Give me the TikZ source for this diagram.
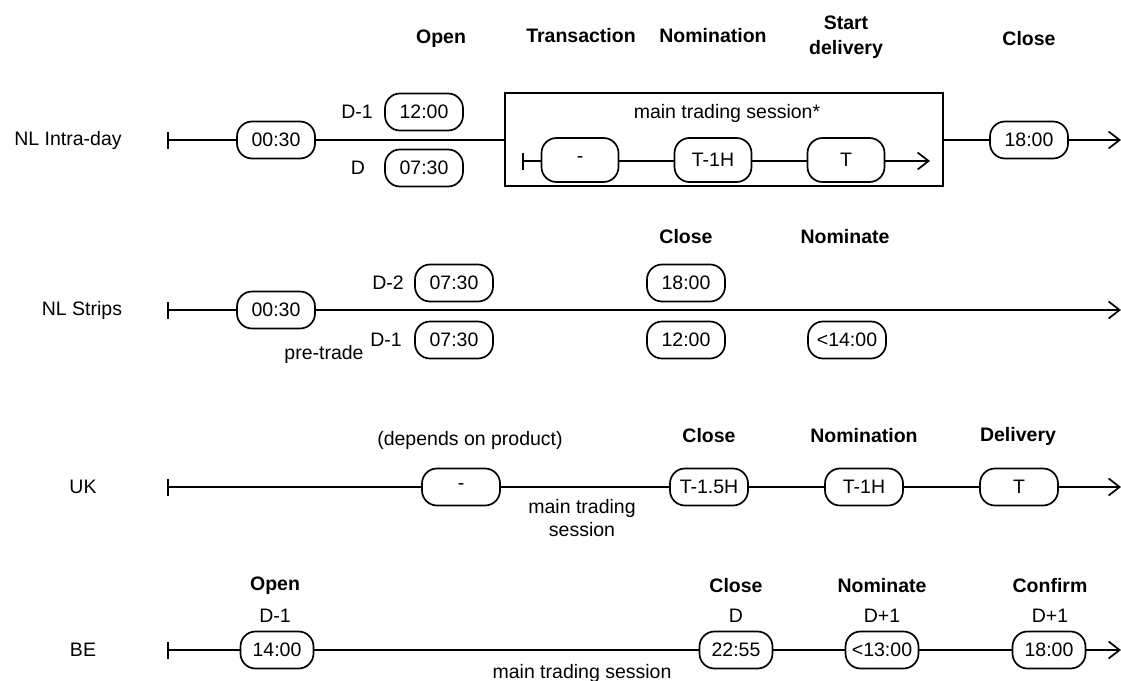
\documentclass[tikz,border=0pt]{standalone}
\usepackage{fontspec}
\setmainfont{Liberation Sans}
\usetikzlibrary{arrows.meta}
\begin{document}
\begin{tikzpicture}[x=1pt,y=-1pt,
  every node/.style={font=\fontsize{19.5}{24}\selectfont},
  head/.style={font=\fontsize{19.5}{24}\selectfont\bfseries, align=center},
  tbox/.style={draw, line width=1.7pt, rounded corners=15pt,
    minimum width=78pt, minimum height=37pt, inner sep=0pt},
  ibox/.style={tbox, minimum width=77pt, minimum height=44pt},
  nbox/.style={tbox, minimum width=73pt},
  tl/.style={line width=1.7pt},
  startbar/.style={{Bar[width=17pt]}-},
  endarrow/.style={-{Straight Barb[length=11pt,width=17pt]}}]
\useasboundingbox (0,0) rectangle (1121,680);

% ---------- NL Intra-day ----------
\node (lab1) at (68,140) {NL Intra-day};
\coordinate (s1) at (167,140);
\node[tbox] (r1a) at (276,140) {00:30};
\node (r1d1) at (357,112) {D-1};
\node[tbox] (r1b) at (424,112) {12:00};
\node (r1d) at (358,168) {D};
\node[tbox] (r1c) at (424,168) {07:30};
\node[draw, line width=1.7pt, minimum width=438pt, minimum height=93pt,
      inner sep=0pt] (sess1) at (724,139.5) {};
\node (sess1t) at (727,113) {main trading session*};
\coordinate (s1i) at (522,161);
\node[ibox] (r1i1) at (580,160) {-};
\node[ibox] (r1i2) at (713,160) {T-1H};
\node[ibox] (r1i3) at (846,160) {T};
\coordinate (e1i) at (930,161);
\node[tbox] (r1d2) at (1029,140) {18:00};
\coordinate (e1) at (1121,140);

\draw[tl, startbar] (s1) -- (r1a);
\draw[tl] (r1a) -- (sess1.west |- r1a);
\draw[tl] (sess1.east |- r1d2) -- (r1d2);
\draw[tl, endarrow] (r1d2) -- (e1);
\draw[tl, startbar] (s1i) -- (s1i -| r1i1.west);
\draw[tl] (r1i1.east |- s1i) -- (r1i2.west |- s1i);
\draw[tl] (r1i2.east |- s1i) -- (r1i3.west |- s1i);
\draw[tl, endarrow] (r1i3.east |- s1i) -- (e1i);

\node[head] (h1a) at (441,39) {Open};
\node[head] (h1b) at (581,36) {Transaction};
\node[head] (h1c) at (713,36) {Nomination};
\node[head, font=\fontsize{19.5}{25}\selectfont\bfseries] (h1d) at (846,37) {Start\\delivery};
\node[head] (h1e) at (1029,39) {Close};

% ---------- NL Strips ----------
\node (lab2) at (82,310) {NL Strips};
\coordinate (s2) at (167,310);
\node[tbox] (r2a) at (276,310) {00:30};
\node (r2d2) at (388,283) {D-2};
\node[tbox] (r2b) at (454,283) {07:30};
\node (r2d1) at (386,340) {D-1};
\node[tbox] (r2c) at (454,340) {07:30};
\node (r2pre) at (324,354) {pre-trade};
\node[tbox] (r2d) at (686,283) {18:00};
\node[tbox] (r2e) at (686,340) {12:00};
\node[tbox] (r2f) at (847,340) {<14:00};
\coordinate (e2) at (1121,310);
\node[head] (h2a) at (686,237) {Close};
\node[head] (h2b) at (845,237) {Nominate};

\draw[tl, startbar] (s2) -- (r2a);
\draw[tl, endarrow] (r2a) -- (e2);

% ---------- UK ----------
\node (lab3) at (83,487) {UK};
\coordinate (s3) at (167,487);
\node (r3dep) at (470,440) {(depends on product)};
\node[tbox] (r3a) at (461,487) {-};
\node[tbox] (r3b) at (709,487) {T-1.5H};
\node[tbox] (r3c) at (864,487) {T-1H};
\node[tbox] (r3d) at (1019,487) {T};
\coordinate (e3) at (1121,487);
\node[align=center, font=\fontsize{19.5}{23}\selectfont] (r3sess) at (582,518) {main trading\\session};
\node[head] (h3a) at (709,436) {Close};
\node[head] (h3b) at (864,436) {Nomination};
\node[head] (h3c) at (1018,436) {Delivery};

\draw[tl, startbar] (s3) -- (r3a);
\draw[tl] (r3a) -- (r3b);
\draw[tl] (r3b) -- (r3c);
\draw[tl] (r3c) -- (r3d);
\draw[tl, endarrow] (r3d) -- (e3);

% ---------- BE ----------
\node (lab4) at (83,650) {BE};
\coordinate (s4) at (167,650);
\node[nbox] (r4a) at (277,650) {14:00};
\node[nbox] (r4b) at (736,650) {22:55};
\node[nbox] (r4c) at (882,650) {<13:00};
\node[nbox] (r4d) at (1049,650) {18:00};
\coordinate (e4) at (1121,650);
\node (r4sess) at (582,673) {main trading session};
\node[head] (h4a) at (275,586) {Open};
\node (d4a) at (275,616) {D-1};
\node[head] (h4b) at (736,586) {Close};
\node (d4b) at (736,616) {D};
\node[head] (h4c) at (882,586) {Nominate};
\node (d4c) at (882,616) {D+1};
\node[head] (h4d) at (1050,586) {Confirm};
\node (d4d) at (1050,616) {D+1};

\draw[tl, startbar] (s4) -- (r4a);
\draw[tl] (r4a) -- (r4b);
\draw[tl] (r4b) -- (r4c);
\draw[tl] (r4c) -- (r4d);
\draw[tl, endarrow] (r4d) -- (e4);
\end{tikzpicture}
\end{document}
